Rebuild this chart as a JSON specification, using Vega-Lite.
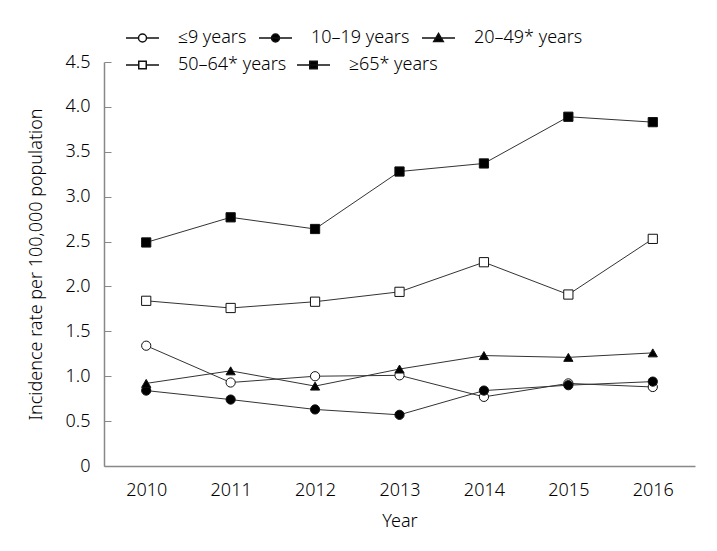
{
  "$schema": "https://vega.github.io/schema/vega-lite/v6.json",
  "width": 591,
  "height": 404,
  "autosize": "none",
  "padding": {"left": 104, "top": 62, "right": 22, "bottom": 85},
  "background": "white",
  "config": {
    "view": {"stroke": null},
    "font": "Noto Sans",
    "axis": {"labelFont": "Noto Sans", "titleFont": "Noto Sans", "labelFontSize": 18, "titleFontSize": 18, "labelFontWeight": 300, "titleFontWeight": 300, "labelColor": "#000", "titleColor": "#000", "domainColor": "#888", "domainWidth": 1.5, "tickColor": "#888", "grid": false},
    "legend": {"labelFont": "Noto Sans", "labelFontSize": 18, "labelFontWeight": 300, "labelColor": "#000"}
  },
  "data": {"values": [
    {"year": "2010", "group": "≤9 years", "value": 1.34},
    {"year": "2011", "group": "≤9 years", "value": 0.93},
    {"year": "2012", "group": "≤9 years", "value": 1.00},
    {"year": "2013", "group": "≤9 years", "value": 1.01},
    {"year": "2014", "group": "≤9 years", "value": 0.77},
    {"year": "2015", "group": "≤9 years", "value": 0.92},
    {"year": "2016", "group": "≤9 years", "value": 0.88},
    {"year": "2010", "group": "10–19 years", "value": 0.84},
    {"year": "2011", "group": "10–19 years", "value": 0.74},
    {"year": "2012", "group": "10–19 years", "value": 0.63},
    {"year": "2013", "group": "10–19 years", "value": 0.57},
    {"year": "2014", "group": "10–19 years", "value": 0.84},
    {"year": "2015", "group": "10–19 years", "value": 0.90},
    {"year": "2016", "group": "10–19 years", "value": 0.94},
    {"year": "2010", "group": "20–49* years", "value": 0.92},
    {"year": "2011", "group": "20–49* years", "value": 1.06},
    {"year": "2012", "group": "20–49* years", "value": 0.89},
    {"year": "2013", "group": "20–49* years", "value": 1.08},
    {"year": "2014", "group": "20–49* years", "value": 1.23},
    {"year": "2015", "group": "20–49* years", "value": 1.21},
    {"year": "2016", "group": "20–49* years", "value": 1.26},
    {"year": "2010", "group": "50–64* years", "value": 1.84},
    {"year": "2011", "group": "50–64* years", "value": 1.76},
    {"year": "2012", "group": "50–64* years", "value": 1.83},
    {"year": "2013", "group": "50–64* years", "value": 1.94},
    {"year": "2014", "group": "50–64* years", "value": 2.27},
    {"year": "2015", "group": "50–64* years", "value": 1.91},
    {"year": "2016", "group": "50–64* years", "value": 2.53},
    {"year": "2010", "group": "≥65* years", "value": 2.49},
    {"year": "2011", "group": "≥65* years", "value": 2.77},
    {"year": "2012", "group": "≥65* years", "value": 2.64},
    {"year": "2013", "group": "≥65* years", "value": 3.28},
    {"year": "2014", "group": "≥65* years", "value": 3.37},
    {"year": "2015", "group": "≥65* years", "value": 3.89},
    {"year": "2016", "group": "≥65* years", "value": 3.83}
  ]},
  "encoding": {
    "x": {"field": "year", "type": "ordinal", "scale": {"type": "point", "padding": 0.5},
      "axis": {"title": "Year", "labelAngle": 0, "ticks": false, "labelPadding": 15, "titlePadding": 13}},
    "y": {"field": "value", "type": "quantitative", "scale": {"domain": [0, 4.5], "nice": false},
      "axis": {"title": "Incidence rate per 100,000 population", "values": [0, 0.5, 1, 1.5, 2, 2.5, 3, 3.5, 4, 4.5],
        "labelExpr": "datum.value == 0 ? '0' : format(datum.value, '.1f')", "tickSize": -7, "labelPadding": 21, "titlePadding": 20}}
  },
  "resolve": {"scale": {"shape": "independent", "fill": "independent"}, "legend": {"shape": "independent", "fill": "independent"}},
  "layer": [
    {
      "mark": {"type": "line", "color": "#333", "strokeWidth": 1},
      "encoding": {"detail": {"field": "group"}}
    },
    {
      "mark": {"type": "point", "filled": true, "stroke": "#111", "strokeWidth": 1, "size": 85, "opacity": 1},
      "encoding": {
        "shape": {"field": "group", "type": "nominal", "legend": null,
          "scale": {"domain": ["≤9 years", "10–19 years", "20–49* years", "50–64* years", "≥65* years"],
                    "range": ["circle", "circle", "triangle-up", "square", "square"]}},
        "fill": {"field": "group", "type": "nominal", "legend": null,
          "scale": {"domain": ["≤9 years", "10–19 years", "20–49* years", "50–64* years", "≥65* years"],
                    "range": ["white", "black", "black", "white", "black"]}}
      }
    },
    {
      "transform": [{"filter": {"field": "group", "oneOf": ["≤9 years", "10–19 years", "20–49* years"]}}],
      "mark": {"type": "point", "filled": true, "stroke": "#111", "strokeWidth": 1, "size": 0, "opacity": 1},
      "encoding": {
        "shape": {"field": "group", "type": "nominal",
          "scale": {"domain": ["≤9 years", "10–19 years", "20–49* years"],
                    "range": ["M-1,0H1.5M3.1,0H5.6M1.5,0A0.8,0.8 0 1,0 3.1,0A0.8,0.8 0 1,0 1.5,0Z", "M-1,0H5.6M1.5,0A0.8,0.8 0 1,0 3.1,0A0.8,0.8 0 1,0 1.5,0Z", "M-1,0H5.6M2.3,-0.9L3.25,0.7L1.35,0.7Z"]},
          "legend": {"title": null, "orient": "none", "legendX": 18, "legendY": -33, "direction": "horizontal", "columnPadding": 8, "symbolSize": 100, "labelOffset": 38}},
        "fill": {"field": "group", "type": "nominal",
          "scale": {"domain": ["≤9 years", "10–19 years", "20–49* years"], "range": ["white", "black", "black"]},
          "legend": {"title": null, "orient": "none", "legendX": 18, "legendY": -33, "direction": "horizontal", "columnPadding": 8, "symbolSize": 100, "labelOffset": 38}}
      }
    },
    {
      "transform": [{"filter": {"field": "group", "oneOf": ["50–64* years", "≥65* years"]}}],
      "mark": {"type": "point", "filled": true, "stroke": "#111", "strokeWidth": 1, "size": 0, "opacity": 1},
      "encoding": {
        "shape": {"field": "group", "type": "nominal",
          "scale": {"domain": ["50–64* years", "≥65* years"],
                    "range": ["M-1,0H1.55M3.05,0H5.6M1.55,-0.75H3.05V0.75H1.55Z", "M-1,0H5.6M1.55,-0.75H3.05V0.75H1.55Z"]},
          "legend": {"title": null, "orient": "none", "legendX": 18, "legendY": -6, "direction": "horizontal", "columnPadding": 6, "symbolSize": 100, "labelOffset": 38}},
        "fill": {"field": "group", "type": "nominal",
          "scale": {"domain": ["50–64* years", "≥65* years"], "range": ["white", "black"]},
          "legend": {"title": null, "orient": "none", "legendX": 18, "legendY": -6, "direction": "horizontal", "columnPadding": 6, "symbolSize": 100, "labelOffset": 38}}
      }
    }
  ]
}
